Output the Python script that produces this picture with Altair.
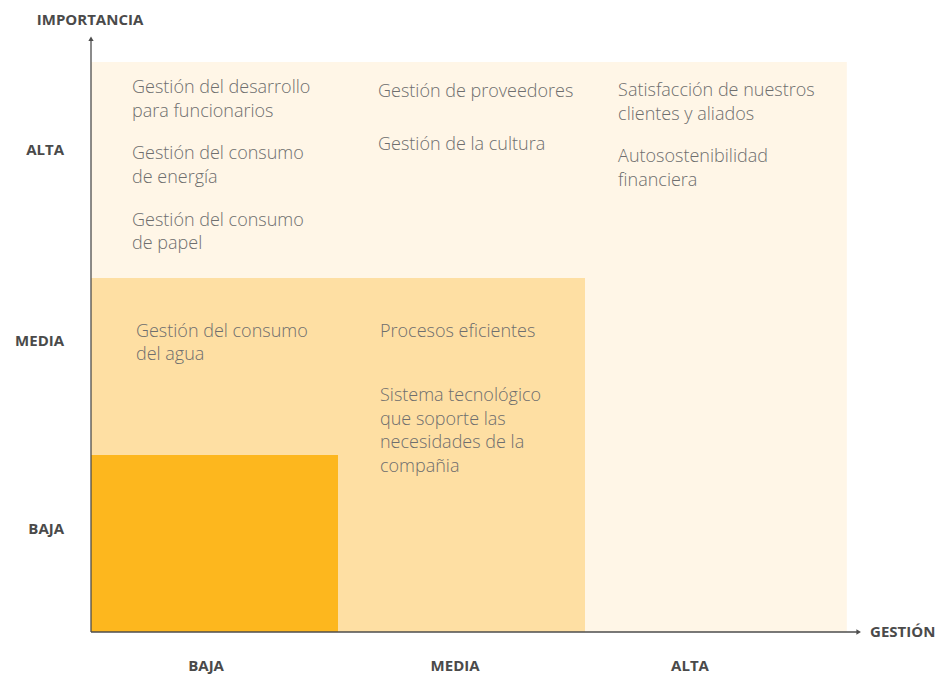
import altair as alt
import pandas as pd

# Zones of the matrix (gestión units on x, importancia units on y)
zone_names = ["Alta", "Media", "Baja"]
zone_x1 = [0.0, 0.0, 0.0]
zone_x2 = [3.06, 2.0, 1.0]
zone_y1 = [0.0, 0.0, 0.0]
zone_y2 = [3.22, 2.0, 1.0]
zone_colors = ["#FFF6E7", "#FEDFA3", "#FDB71E"]

# Items placed in the matrix
item_texts = [
    "Gestión del desarrollo\npara funcionarios",
    "Gestión del consumo\nde energía",
    "Gestión del consumo\nde papel",
    "Gestión del consumo\ndel agua",
    "Gestión de proveedores",
    "Gestión de la cultura",
    "Procesos eficientes",
    "Sistema tecnológico\nque soporte las\nnecesidades de la\ncompañia",
    "Satisfacción de nuestros\nclientes y aliados",
    "Autosostenibilidad\nfinanciera",
]
item_x = [0.166, 0.166, 0.166, 0.182, 1.162, 1.162, 1.170, 1.170, 2.134, 2.134]
item_y = [3.045, 2.672, 2.294, 1.667, 3.023, 2.723, 1.667, 1.305, 3.028, 2.655]

# Axis level labels
level_labels = ["BAJA", "MEDIA", "ALTA"]
x_label_pos = [0.466, 1.474, 2.425]
y_label_pos = [0.582, 1.644, 2.723]

x_title = "GESTIÓN"
y_title = "IMPORTANCIA"

X_DOMAIN = [-83 / 247, 852 / 247]
Y_DOMAIN = [-44 / 177, 624 / 177]

xs = alt.Scale(domain=X_DOMAIN, nice=False, zero=False)
ys = alt.Scale(domain=Y_DOMAIN, nice=False, zero=False)

zones = pd.DataFrame({"zona": zone_names, "x1": zone_x1, "x2": zone_x2,
                      "y1": zone_y1, "y2": zone_y2, "color": zone_colors})
items = pd.DataFrame({"texto": item_texts, "x": item_x, "y": item_y})
xlab = pd.DataFrame({"t": level_labels, "x": x_label_pos, "y": [-0.192] * 3})
ylab = pd.DataFrame({"t": level_labels, "x": [-0.109] * 3, "y": y_label_pos})

rects = alt.Chart(zones).mark_rect().encode(
    x=alt.X("x1:Q", scale=xs, axis=None),
    x2="x2:Q",
    y=alt.Y("y1:Q", scale=ys, axis=None),
    y2="y2:Q",
    fill=alt.Fill("color:N", scale=None),
)

axis_lines = pd.DataFrame({"x": [0.0, 0.0], "x2": [3.101, 0.0],
                           "y": [0.0, 0.0], "y2": [0.0, 3.345]})
rules = alt.Chart(axis_lines).mark_rule(color="#4d4d4d", strokeWidth=1.3).encode(
    x=alt.X("x:Q", scale=xs, axis=None), x2="x2:Q",
    y=alt.Y("y:Q", scale=ys, axis=None), y2="y2:Q",
)

arrows = pd.DataFrame({"x": [3.108, 0.0], "y": [0.0, 3.352],
                       "shape": ["triangle-right", "triangle-up"]})
heads = alt.Chart(arrows).mark_point(filled=True, color="#4d4d4d", size=28, opacity=1).encode(
    x=alt.X("x:Q", scale=xs, axis=None),
    y=alt.Y("y:Q", scale=ys, axis=None),
    shape=alt.Shape("shape:N", scale=None),
)

item_text = alt.Chart(items).mark_text(
    align="left", baseline="alphabetic", font="Open Sans", fontSize=18,
    fontWeight=300, color="#6e6e6e", lineBreak="\n", lineHeight=23.5,
).encode(
    x=alt.X("x:Q", scale=xs, axis=None),
    y=alt.Y("y:Q", scale=ys, axis=None),
    text="texto:N",
)

lab_style = dict(font="Open Sans", fontSize=15, fontWeight="bold", color="#4a4a4a")

xlabels = alt.Chart(xlab).mark_text(align="center", baseline="middle", **lab_style).encode(
    x=alt.X("x:Q", scale=xs, axis=None), y=alt.Y("y:Q", scale=ys, axis=None), text="t:N")
ylabels = alt.Chart(ylab).mark_text(align="right", baseline="middle", **lab_style).encode(
    x=alt.X("x:Q", scale=xs, axis=None), y=alt.Y("y:Q", scale=ys, axis=None), text="t:N")

titles = pd.DataFrame({"t": [x_title, y_title], "x": [3.154, -0.004], "y": [0.0, 3.458]})
xtitle = alt.Chart(titles.iloc[[0]]).mark_text(align="left", baseline="middle", **lab_style).encode(
    x=alt.X("x:Q", scale=xs, axis=None), y=alt.Y("y:Q", scale=ys, axis=None), text="t:N")
ytitle = alt.Chart(titles.iloc[[1]]).mark_text(align="center", baseline="middle", **lab_style).encode(
    x=alt.X("x:Q", scale=xs, axis=None), y=alt.Y("y:Q", scale=ys, axis=None), text="t:N")

chart = alt.layer(rects, rules, heads, item_text, xlabels, ylabels, xtitle, ytitle).properties(
    width=935, height=668, padding=0, autosize=alt.AutoSizeParams(type="none"),
    background="white",
).configure_view(stroke=None)

chart.save("out.html", embed_options={"renderer": "svg", "actions": False})
